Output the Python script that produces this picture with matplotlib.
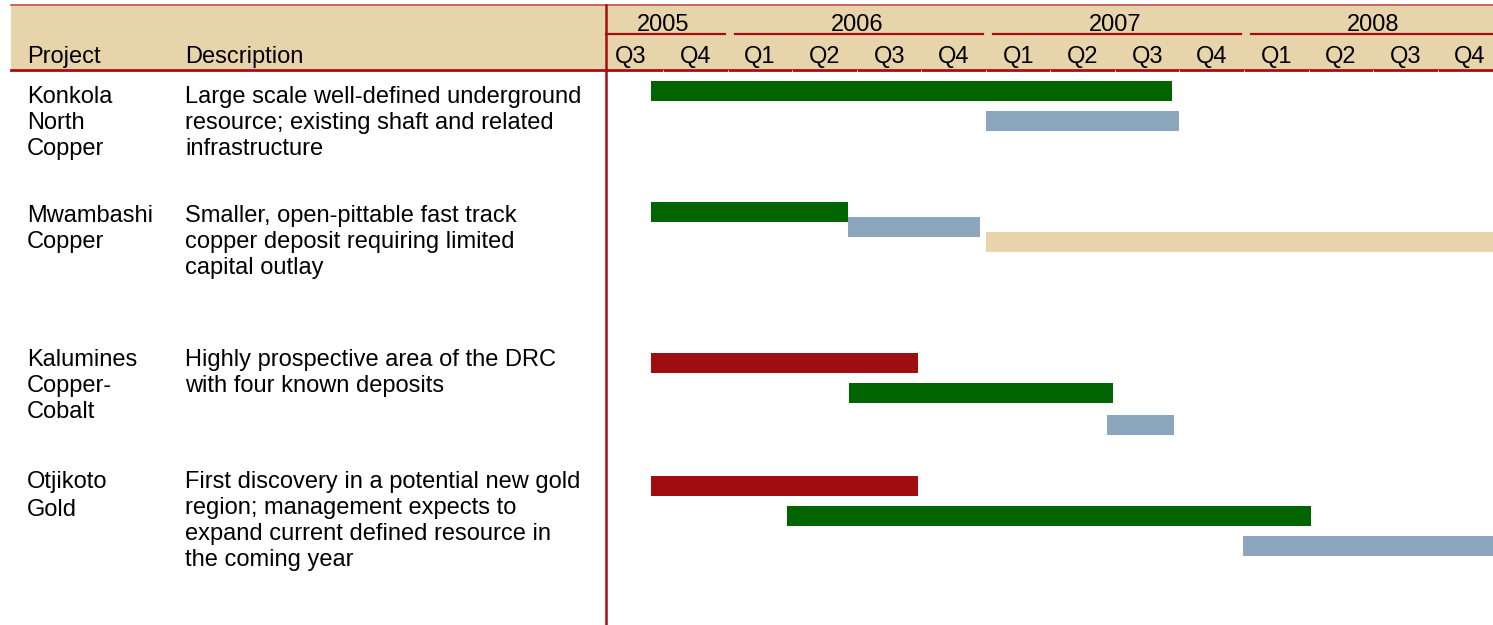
import matplotlib.pyplot as plt
from matplotlib.patches import Rectangle

plt.rcParams['font.family'] = ['Liberation Sans', 'DejaVu Sans']

# quarters counted from the start of Q3 2005
quarter_labels = ['Q3', 'Q4', 'Q1', 'Q2', 'Q3', 'Q4', 'Q1', 'Q2', 'Q3', 'Q4', 'Q1', 'Q2', 'Q3', 'Q4']
years = ['2005', '2006', '2007', '2008']
year_start = [0, 2, 6, 10]
year_end = [2, 6, 10, 14]

projects = [['Konkola', 'North', 'Copper'],
            ['Mwambashi', 'Copper'],
            ['Kalumines', 'Copper-', 'Cobalt'],
            ['Otjikoto', 'Gold']]
descriptions = [['Large scale well-defined underground', 'resource; existing shaft and related', 'infrastructure'],
                ['Smaller, open-pittable fast track', 'copper deposit requiring limited', 'capital outlay'],
                ['Highly prospective area of the DRC', 'with four known deposits'],
                ['First discovery in a potential new gold', 'region; management expects to',
                 'expand current defined resource in', 'the coming year']]

# bars: project index, start, end (quarters), phase
bar_project = [0, 0, 1, 1, 1, 2, 2, 2, 3, 3, 3]
bar_start = [0.81, 6.0, 0.81, 3.87, 6.0, 0.81, 3.88, 7.88, 0.81, 2.92, 9.98]
bar_end = [8.88, 9.0, 3.87, 5.91, 14.0, 4.95, 7.97, 8.92, 4.95, 11.04, 14.0]
bar_phase = ['green', 'blue', 'green', 'blue', 'tan', 'red', 'green', 'blue', 'red', 'green', 'blue']

# layout (pixels)
bar_top = [81, 111, 202, 217, 232, 353, 383, 415, 476, 506, 536]
text_top = [103, 222, 366, 488]
name_step = [26, 26, 26, 28.5]
line_step = 26

RED = '#A50D12'
BEIGE = '#E8D4AA'
phase_colors = {'green': '#006400', 'blue': '#8CA7BD', 'tan': '#E8D4AA', 'red': '#A00D10'}

W, H = 1493, 625
x0_px, q_px = 598.8, 64.52
fs = 17

fig = plt.figure(figsize=(W / 100, H / 100), dpi=100)
frame = fig.add_axes([0, 0, 1, 1])
frame.set_xlim(0, W)
frame.set_ylim(H, 0)
frame.axis('off')

ax = fig.add_axes([0, 0, 1, 1])
ax.set_xlim(-x0_px / q_px, (W - x0_px) / q_px)
ax.set_ylim(H, 0)
ax.axis('off')
ax.patch.set_alpha(0)

# header band and rules
frame.add_patch(Rectangle((11, 5), W - 11, 64, facecolor=BEIGE, edgecolor='none'))
frame.plot([11, W], [5, 5], color='#C0504D', lw=1.2)
frame.plot([11, W], [69.5, 69.5], color=RED, lw=2)
frame.plot([606, 606], [5, H], color=RED, lw=1.8)

frame.text(27, 63.5, 'Project', fontsize=fs, va='baseline')
frame.text(185, 63.5, 'Description', fontsize=fs, va='baseline')

# timeline header
for i, lab in enumerate(quarter_labels):
    ax.text(i + 0.5, 63, lab, fontsize=fs, ha='center', va='baseline')
    if i > 0:
        ax.plot([i, i], [70, 72], color='#F0E0E0', lw=0.6)
for y, s, e in zip(years, year_start, year_end):
    ax.plot([s + 0.11, e - 0.05], [34, 34], color=RED, lw=1.6)
    ax.text((s + e) / 2, 31, y, fontsize=fs, ha='center', va='baseline')

# left columns
for p, (name, desc) in enumerate(zip(projects, descriptions)):
    for k, line in enumerate(name):
        frame.text(27, text_top[p] + k * name_step[p], line, fontsize=fs, va='baseline')
    for k, line in enumerate(desc):
        frame.text(185, text_top[p] + k * line_step, line, fontsize=fs, va='baseline')

# bars
for s, e, ph, top in zip(bar_start, bar_end, bar_phase, bar_top):
    ax.barh(top + 10, e - s, left=s, height=20, color=phase_colors[ph], edgecolor='none')

fig.savefig('out.png', dpi=100)
